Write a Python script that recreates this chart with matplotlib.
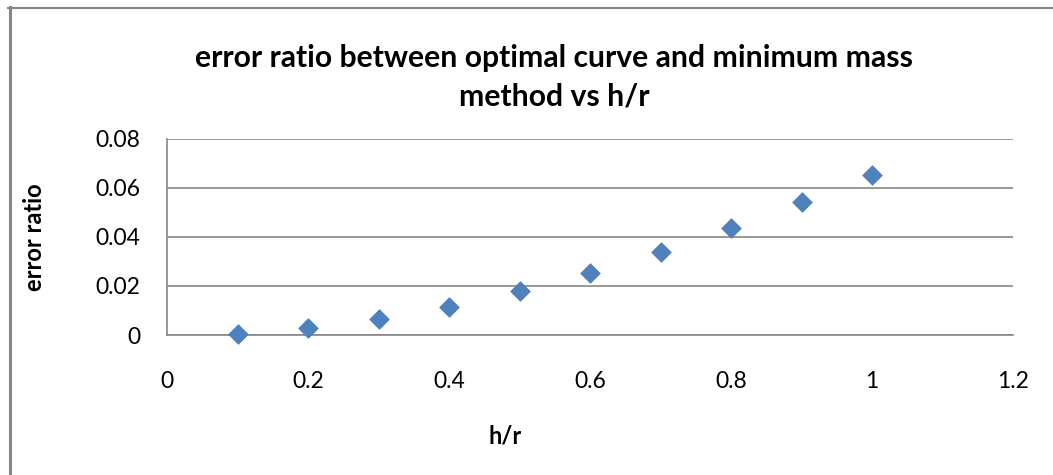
import matplotlib
matplotlib.use("Agg")
import matplotlib.pyplot as plt
from matplotlib.lines import Line2D

# Data
h_r = [0.1, 0.2, 0.3, 0.4, 0.5, 0.6, 0.7, 0.8, 0.9, 1.0]
error_ratio = [0.0006, 0.0027, 0.0064, 0.0114, 0.0178, 0.0253, 0.0340, 0.0437, 0.0542, 0.0655]
x_ticks = [0, 0.2, 0.4, 0.6, 0.8, 1, 1.2]
x_tick_labels = ["0", "0.2", "0.4", "0.6", "0.8", "1", "1.2"]
y_ticks = [0, 0.02, 0.04, 0.06, 0.08]
y_tick_labels = ["0", "0.02", "0.04", "0.06", "0.08"]

title = "error ratio between optimal curve and minimum mass\nmethod vs h/r"
xlabel = "h/r"
ylabel = "error ratio"

plt.rcParams['font.family'] = ['Lato', 'DejaVu Sans']

W, H = 1053, 475
fig = plt.figure(figsize=(W / 100, H / 100), dpi=100)
fig.patch.set_facecolor('white')

ax = fig.add_axes([167 / W, 1 - 335 / H, (1013 - 167) / W, (335 - 139) / H])
grey = '#868686'

ax.scatter(h_r, error_ratio, marker='D', s=100, color='#4F81BD',
           edgecolors='#4A7EBB', linewidths=0.5, zorder=3, clip_on=False)

ax.set_xlim(0, 1.2)
ax.set_ylim(0, 0.08)
ax.set_xticks(x_ticks)
ax.set_xticklabels(x_tick_labels)
ax.set_yticks(y_ticks)
ax.set_yticklabels(y_tick_labels)
ax.tick_params(axis='both', length=0, labelsize=16.5, colors='black')
ax.tick_params(axis='x', pad=26)
ax.tick_params(axis='y', pad=19)

ax.yaxis.grid(True, color=grey, linewidth=1.2)
ax.set_axisbelow(True)
for s in ['top', 'right']:
    ax.spines[s].set_visible(False)
for s in ['left', 'bottom']:
    ax.spines[s].set_color(grey)
    ax.spines[s].set_linewidth(1.2)

fig.text(554 / W, 1 - 77 / H, title, ha='center', va='center',
         fontsize=21.7, fontweight='bold', linespacing=1.45)
fig.text(505 / W, 1 - 436 / H, xlabel, ha='center', va='center',
         fontsize=17, fontweight='bold')
fig.text(35 / W, 1 - 237 / H, ylabel, ha='center', va='center',
         rotation=90, fontsize=17, fontweight='bold')

# chart border (left and top)
fig.add_artist(Line2D([9.5 / W, 9.5 / W], [0, 1 - 7 / H], transform=fig.transFigure,
                      color='#878787', linewidth=2.2))
fig.add_artist(Line2D([8 / W, 1], [1 - 7.5 / H, 1 - 7.5 / H], transform=fig.transFigure,
                      color='#878787', linewidth=1.5))

fig.savefig('out.png', dpi=100, facecolor='white')
